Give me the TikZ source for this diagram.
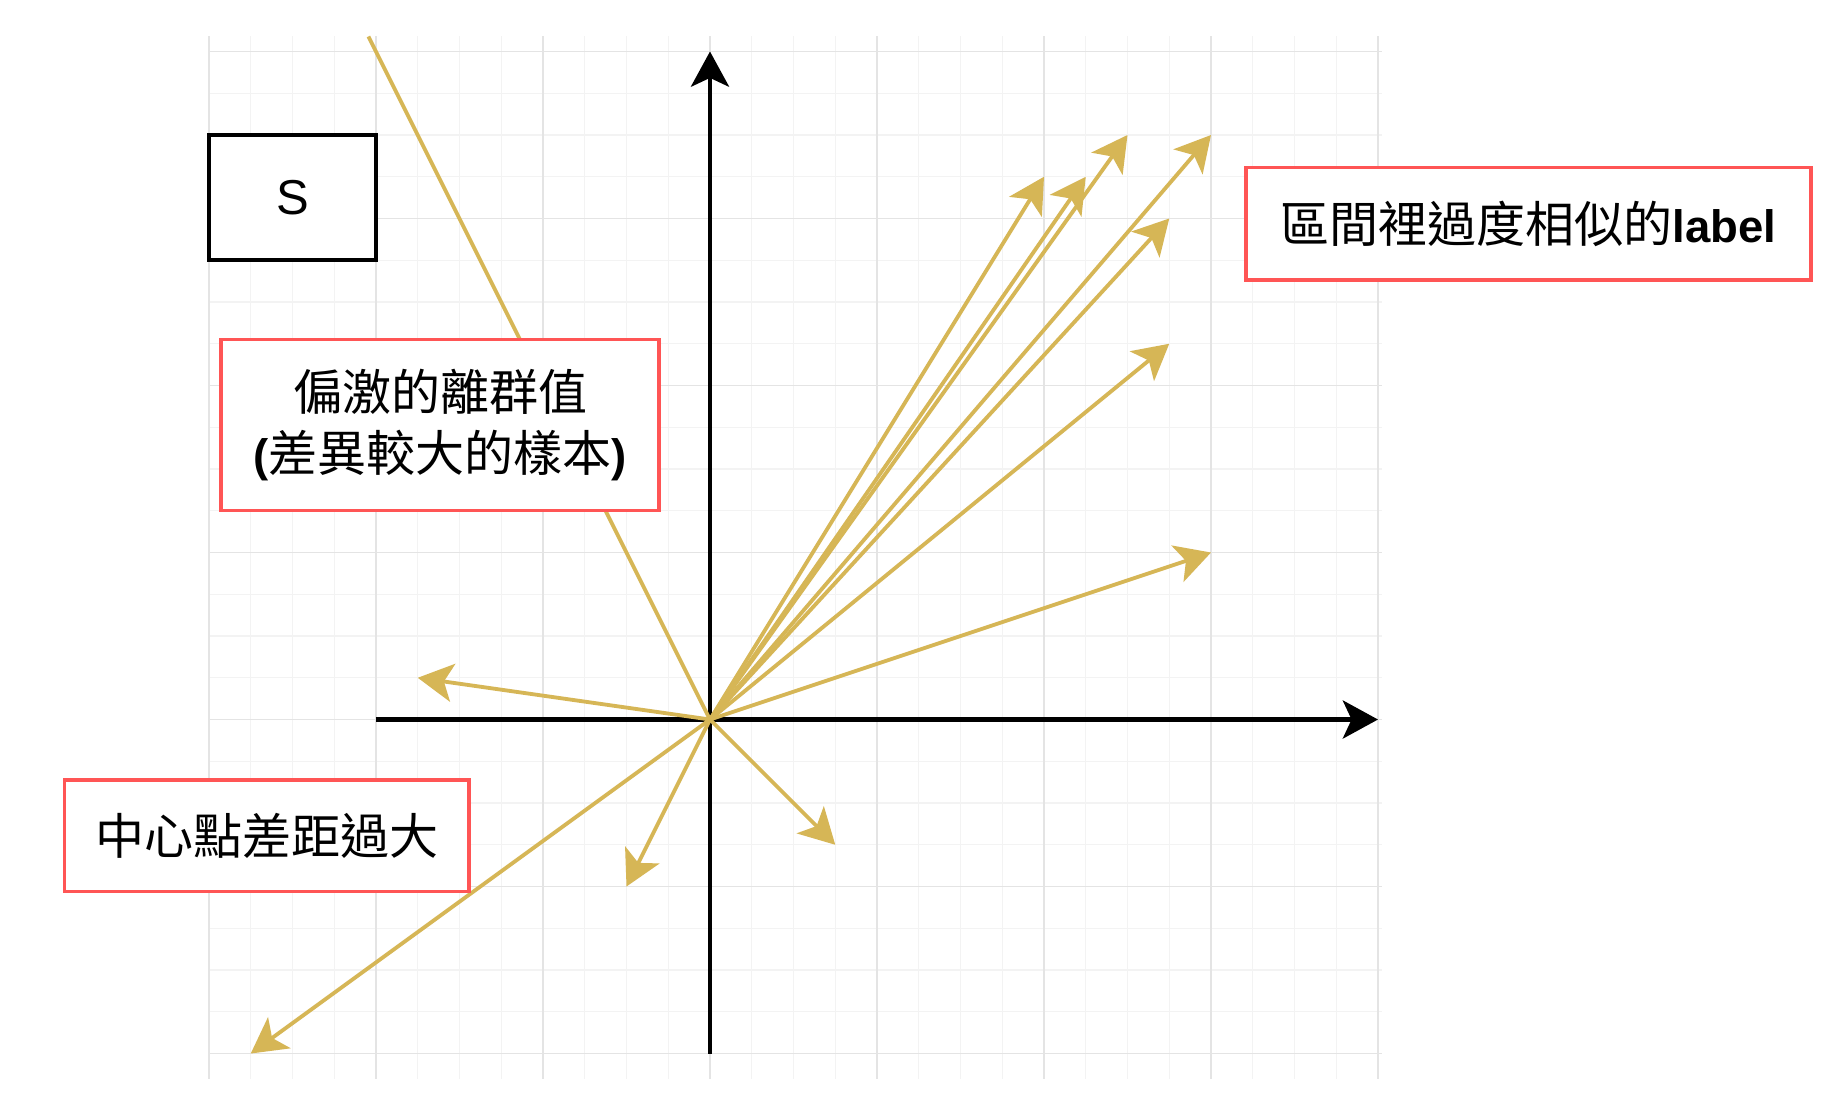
\documentclass[tikz,border=0pt]{standalone}
\usepackage{fontspec}
\newfontfamily\cjk{Noto Sans CJK TC}
\newfontfamily\lat{Liberation Sans}
\usepackage{tikz}
\usetikzlibrary{arrows.meta}

\definecolor{gold}{HTML}{D6B656}
\definecolor{boxred}{HTML}{FF5555}
\definecolor{gridmaj}{HTML}{E4E4E4}
\definecolor{gridmin}{HTML}{F3F3F3}

\newcommand{\latb}[1]{{\lat\bfseries\fontsize{31}{41}\selectfont #1}}

\begin{document}
\begin{tikzpicture}[
  vec/.style={draw=gold,line width=2.6pt,-{Stealth[length=24pt,width=26pt,inset=6pt]}},
  axis/.style={draw=black,line width=2.8pt,-{Stealth[length=24pt,width=26pt,inset=6pt]}},
  redbox/.style={draw=boxred,line width=2.2pt,fill=white,inner sep=0pt,align=center,
    font=\cjk\fontsize{33.4}{41}\selectfont},
  blackbox/.style={draw=black,line width=2.8pt,fill=white,inner sep=0pt,
    font=\lat\fontsize{33.4}{41}\selectfont}
]

\fill[white] (-17.006,-8.922) rectangle (27.066,17.234);
\useasboundingbox (-17.006,-8.922) rectangle (27.066,17.234);

% grid paper
\draw[gridmin,line width=0.8pt] (-12,-8.61) grid[step=1] (16.1,16.36);
\draw[gridmaj,line width=1pt] (-12,-8.61) grid[step=4] (16.1,16.36);

\coordinate (o) at (0,0);

% axes
\coordinate (xl) at (-8,0);
\coordinate (xr) at (16,0);
\coordinate (yb) at (0,-8);
\coordinate (yt) at (0,16);

\draw[axis] (xl) -- (xr);
\draw[axis] (yb) -- (yt);

% vectors
\coordinate (ua) at (8,13);
\coordinate (ub) at (9,13);
\coordinate (uc) at (10,14);
\coordinate (ud) at (12,14);
\coordinate (ue) at (11,12);
\coordinate (uf) at (11,9);
\coordinate (ug) at (12,4);
\coordinate (la) at (-7,1);
\coordinate (lb) at (-2,-4);
\coordinate (lc) at (3,-3);
\coordinate (ld) at (-11,-8);
\coordinate (out) at (-8.18,16.36);

\draw[vec] (o) -- (ua);
\draw[vec] (o) -- (ub);
\draw[vec] (o) -- (uc);
\draw[vec] (o) -- (ud);
\draw[vec] (o) -- (ue);
\draw[vec] (o) -- (uf);
\draw[vec] (o) -- (ug);
\draw[vec] (o) -- (la);
\draw[vec] (o) -- (lb);
\draw[vec] (o) -- (lc);
\draw[vec] (o) -- (ld);
\draw[gold,line width=2.6pt] (o) -- (out);

% labels
\node[blackbox,minimum width=4cm,minimum height=3cm] (sbox) at (-10,12.5) {S};

\node[redbox,minimum width=10.49cm,minimum height=4.11cm] (outlier) at (-6.465,7.055)
  {偏激的離群值\\\latb{(}差異較大的樣本\latb{)}};

\node[redbox,minimum width=13.53cm,minimum height=2.69cm] (sim) at (19.605,11.875)
  {區間裡過度相似的\latb{label}};

\node[redbox,minimum width=9.7cm,minimum height=2.66cm] (ctr) at (-10.62,-2.78)
  {中心點差距過大};

\end{tikzpicture}
\end{document}
